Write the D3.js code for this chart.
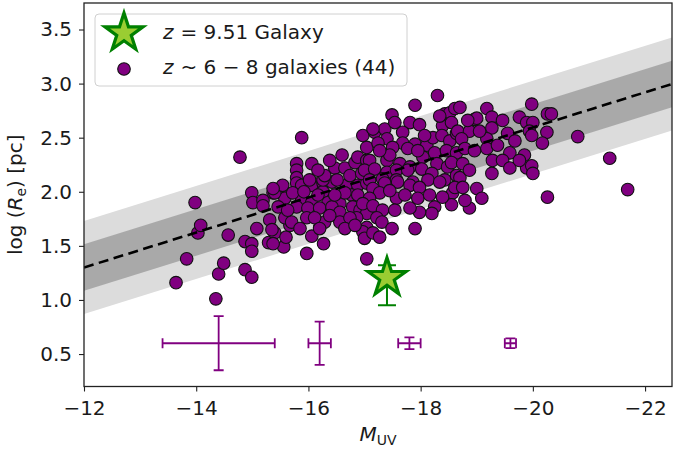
<!DOCTYPE html>
<html><head><meta charset="utf-8">
<script src="https://cdn.jsdelivr.net/npm/d3@7"></script>
<style>
body{margin:0;background:#fff;}
text{font-family:"DejaVu Sans",sans-serif;fill:#1a1a1a;}
</style></head>
<body><svg id="c" width="673" height="457"></svg>
<script>
// z~6-8 galaxies: M_UV and log(Re)
const galMuv = [-13.64,-13.83,-13.98,-14.03,-14.08,-14.35,-14.40,-14.49,-14.57,-14.78,-14.87,-14.87,-14.99,-14.99,-14.99,-15.08,-15.29,-15.40,-15.56,-15.60,-15.67,-15.97,-16.06,-16.27,-16.20,-16.29,-15.88,-16.06,-15.79,-15.79,-15.79,-15.79,-14.99,-15.01,-15.19,-15.19,-15.37,-15.53,-15.58,-15.88,-16.08,-15.31,
-15.40,-15.88,-16.06,-16.26,-16.42,-16.68,-16.88,-17.04,-15.72,-16.06,-16.26,-16.35,-16.56,-16.77,-16.88,-15.79,-15.99,-16.20,-16.42,-16.56,-16.79,-16.92,-17.04,-15.58,-15.70,-15.97,-16.11,-16.56,-16.86,-17.04,-15.35,-16.20,-16.97,-17.00,-17.04,-15.37,
-16.97,-16.02,-16.26,-16.47,-16.65,-16.83,-16.88,-17.04,-16.74,-16.95,-16.51,-16.29,-15.54,-15.37,
-18.30,-17.90,-17.49,-17.81,-17.98,-17.18,-17.36,-17.40,-17.68,-17.68,-17.90,-18.11,-18.22,-18.43,-18.52,-18.61,-18.39,-18.55,-18.38,-18.52,-18.64,-18.25,-18.46,-18.64,-17.04,-17.24,-17.50,-17.77,-18.04,-17.09,-17.40,-17.63,-17.81,-17.00,-17.18,-17.40,-17.57,-17.77,-18.02,-18.29,-18.48,-18.20,-17.09,-17.32,-17.57,-17.86,-18.13,-18.43,-18.64,
-17.15,-17.36,-17.59,-17.81,-17.98,-18.34,-18.57,-18.55,-18.25,-18.20,-17.98,-17.81,-17.57,-17.27,-17.09,-16.97,-17.15,-17.32,-17.22,-17.31,-17.49,-17.90,-17.15,-17.27,
-18.70,-19.18,-19.98,-20.26,-19.27,-18.96,-19.46,-19.76,-19.89,-20.00,-18.66,-18.87,-19.27,-19.94,-19.98,-19.55,-20.25,-18.73,-19.18,-19.18,-19.37,-20.17,-18.79,-19.59,-19.85,-19.28,-19.46,-19.59,-19.89,-19.98,-20.00,-19.27,-18.55,-18.75,-18.70,-18.61,-18.75,-19.00,-19.09,-18.87,-18.79,
-20.33,-20.80,-21.37,-21.69,-20.26,-17.15,-18.34,-19.00,
-16.65,-16.47,-16.17,-15.92,-16.38,-16.74,-16.65,-16.83,-15.85,-15.46,-15.63,-17.45,-17.72,-17.95,-18.16,-18.39,-17.54,-17.45,-17.95,-18.07,-17.27,-17.54,-16.38,-16.17,-16.60,-18.87,-18.96,-19.05,-18.84,-19.68,-19.76];
const galLogRe = [1.16,1.38,1.90,1.62,1.69,1.01,1.24,1.34,1.60,2.32,1.54,1.28,1.52,1.45,1.21,1.66,1.53,1.62,1.49,1.58,1.69,1.43,1.59,1.52,1.67,1.72,2.50,2.26,2.26,2.20,2.13,2.08,1.99,1.90,1.92,1.87,1.99,2.00,1.94,1.92,2.08,1.74,
1.99,2.06,2.06,2.08,2.09,2.06,2.06,2.08,1.99,1.90,2.00,1.90,1.89,1.97,1.97,1.86,1.85,1.85,1.86,1.81,1.86,1.83,1.80,1.76,1.72,1.76,1.76,1.72,1.76,1.67,1.65,1.66,1.63,1.57,1.38,1.52,
2.52,2.11,2.11,2.22,2.22,2.27,2.32,2.29,2.15,2.17,2.11,2.15,2.06,2.03,
2.89,2.80,2.71,2.64,2.62,2.55,2.58,2.49,2.55,2.45,2.44,2.43,2.50,2.72,2.73,2.77,2.61,2.64,2.52,2.47,2.54,2.36,2.38,2.36,2.41,2.45,2.41,2.40,2.32,2.29,2.29,2.26,2.23,2.20,2.21,2.18,2.20,2.20,2.21,2.26,2.23,2.17,2.11,2.12,2.11,2.09,2.11,2.11,2.15,
2.03,2.08,2.09,2.06,2.04,2.09,1.99,1.88,1.86,1.80,1.81,1.85,1.94,1.99,1.94,1.89,1.87,1.83,1.76,1.72,1.66,1.66,1.62,1.58,
2.78,2.77,2.81,2.72,2.69,2.67,2.66,2.69,2.64,2.64,2.56,2.56,2.59,2.56,2.52,2.54,2.55,2.49,2.49,2.40,2.43,2.45,2.40,2.36,2.34,2.29,2.29,2.22,2.22,2.24,2.17,2.17,2.27,2.26,2.13,2.04,2.04,2.03,1.94,1.85,1.92,
2.72,2.51,2.31,2.02,1.95,2.58,2.70,2.68,
1.99,1.97,1.97,2.00,1.78,1.76,1.66,1.69,1.66,1.86,1.83,2.01,1.97,1.94,1.97,1.95,1.83,2.34,2.38,2.52,2.38,2.64,2.29,2.20,2.34,2.20,2.38,2.56,2.66,2.47,2.29];

// typical uncertainties (bins)
const errMuv = [-14.4, -16.2, -17.8, -19.6];
const errLogRe = [0.6, 0.6, 0.6, 0.6];
const errMuvErr = [1.0, 0.2, 0.2, 0.1];
const errLogReErr = [0.25, 0.2, 0.055, 0.045];

// z = 9.51 galaxy
const starMuv = [-17.4];
const starLogRe = [1.22];
const starErrLo = [0.27];
const starErrHi = [0.10];

// size-luminosity relation: endpoints, scatter bands
const relMuv = [-12, -22.5];
const relLogRe = [1.30, 3.00];
const relSigma1 = [0.215];
const relSigma2 = [0.43];

const xTicks = [-12, -14, -16, -18, -20, -22];
const yTicks = [0.5, 1.0, 1.5, 2.0, 2.5, 3.0, 3.5];

const legendLabels = ["= 9.51 Galaxy", "~ 6 \u2212 8 galaxies (44)"];

const FS = 20;
const svg = d3.select("#c");
const L = 84, R = 672, T = 3, B = 386.5;
const x = d3.scaleLinear().domain([-12, -22.48]).range([L, R]);
const y = d3.scaleLinear().domain([0.2, 3.745]).range([B, T]);

svg.append("defs").append("clipPath").attr("id","clip")
  .append("rect").attr("x",L).attr("y",T).attr("width",R-L).attr("height",B-T);
const plot = svg.append("g").attr("clip-path","url(#clip)");

// relation line function
const slope = (relLogRe[1]-relLogRe[0])/(relMuv[1]-relMuv[0]);
const rel = m => relLogRe[0] + slope*(m - relMuv[0]);
const xs = [relMuv[0]+1, relMuv[1]-1];
function band(s){
  return d3.area().x(d=>x(d)).y0(d=>y(rel(d)-s)).y1(d=>y(rel(d)+s))(xs);
}
plot.append("path").attr("d", band(relSigma2[0])).attr("fill","#dcdcdc");
plot.append("path").attr("d", band(relSigma1[0])).attr("fill","#a9a9a9");

// scatter
plot.selectAll("circle.g").data(galMuv.map((m,i)=>[m,galLogRe[i]])).join("circle")
  .attr("class","g").attr("cx",d=>x(d[0])).attr("cy",d=>y(d[1])).attr("r",6.3)
  .attr("fill","#800080").attr("stroke","#111").attr("stroke-width",1.1);

// relation dashed line
plot.append("path").attr("d", d3.line().x(d=>x(d)).y(d=>y(rel(d)))([relMuv[0], relMuv[1]]))
  .attr("stroke","#000").attr("stroke-width",2.6).attr("stroke-dasharray","10,5.5").attr("fill","none");

// error bars
const eb = plot.append("g").attr("stroke","#800080").attr("stroke-width",1.8).attr("fill","none");
errMuv.forEach((m,i)=>{
  const cx=x(m), cy=y(errLogRe[i]);
  const x0=x(m+errMuvErr[i]), x1=x(m-errMuvErr[i]);
  const y0=y(errLogRe[i]-errLogReErr[i]), y1=y(errLogRe[i]+errLogReErr[i]);
  const c=5;
  eb.append("line").attr("x1",x0).attr("x2",x1).attr("y1",cy).attr("y2",cy);
  eb.append("line").attr("x1",cx).attr("x2",cx).attr("y1",y0).attr("y2",y1);
  eb.append("line").attr("x1",x0).attr("x2",x0).attr("y1",cy-c).attr("y2",cy+c);
  eb.append("line").attr("x1",x1).attr("x2",x1).attr("y1",cy-c).attr("y2",cy+c);
  eb.append("line").attr("x1",cx-c).attr("x2",cx+c).attr("y1",y0).attr("y2",y0);
  eb.append("line").attr("x1",cx-c).attr("x2",cx+c).attr("y1",y1).attr("y2",y1);
});

function starPath(cx, cy, r){
  const ri = r*0.381966;
  const pts=[];
  for(let k=0;k<10;k++){
    const a = -Math.PI/2 + k*Math.PI/5;
    const rr = k%2===0? r: ri;
    pts.push([cx+rr*Math.cos(a), cy+rr*Math.sin(a)]);
  }
  return "M"+pts.map(p=>p.join(",")).join("L")+"Z";
}

// star with error
const sg = plot.append("g");
starMuv.forEach((m,i)=>{
  const cx=x(m), lo=y(starLogRe[i]-starErrLo[i]), hi=y(starLogRe[i]+starErrHi[i]);
  sg.append("line").attr("x1",cx).attr("x2",cx).attr("y1",lo).attr("y2",hi).attr("stroke","#008000").attr("stroke-width",2);
  sg.append("line").attr("x1",cx-9).attr("x2",cx+9).attr("y1",lo).attr("y2",lo).attr("stroke","#008000").attr("stroke-width",2);
  sg.append("line").attr("x1",cx-9).attr("x2",cx+9).attr("y1",hi).attr("y2",hi).attr("stroke","#008000").attr("stroke-width",2);
  sg.append("path").attr("d",starPath(cx,y(starLogRe[i])+1.5,20)).attr("fill","#9acd32")
    .attr("stroke","#008000").attr("stroke-width",3.2).attr("stroke-linejoin","miter");
});

// axes
const xa = svg.append("g").attr("transform",`translate(0,${B})`)
  .call(d3.axisBottom(x).tickValues(xTicks).tickFormat(d3.format("d")).tickSizeOuter(0).tickSize(5).tickPadding(9));
const ya = svg.append("g").attr("transform",`translate(${L},0)`)
  .call(d3.axisLeft(y).tickValues(yTicks).tickFormat(d3.format(".1f")).tickSizeOuter(0).tickSize(5).tickPadding(7));
[xa,ya].forEach(a=>{
  a.selectAll("text").attr("font-size",FS).attr("font-family","DejaVu Sans").attr("fill","#1a1a1a");
  a.selectAll("line").attr("stroke","#222").attr("stroke-width",1.1);
  a.select(".domain").remove();
});
svg.append("rect").attr("x",L).attr("y",T).attr("width",R-L).attr("height",B-T)
  .attr("fill","none").attr("stroke","#222").attr("stroke-width",1.3);

// axis labels
const xl = svg.append("text").attr("x",(L+R)/2).attr("y",441).attr("text-anchor","middle").attr("font-size",FS);
xl.append("tspan").attr("font-style","italic").text("M");
xl.append("tspan").attr("font-size",14).attr("dy",4).text("UV");

const yl = svg.append("text").attr("transform",`translate(22,${(T+B)/2}) rotate(-90)`).attr("text-anchor","middle").attr("font-size",FS);
yl.append("tspan").text("log (");
yl.append("tspan").attr("font-style","italic").text("R");
yl.append("tspan").attr("font-size",14).attr("dy",4).text("e");
yl.append("tspan").attr("dy",-4).text(") [pc]");

// legend
const lg = svg.append("g");
lg.append("rect").attr("x",95).attr("y",14).attr("width",312).attr("height",72).attr("rx",4)
  .attr("fill","#fff").attr("fill-opacity",0.85).attr("stroke","#d0d0d0").attr("stroke-width",1);
lg.append("path").attr("d",starPath(124,33,20)).attr("fill","#9acd32").attr("stroke","#008000").attr("stroke-width",3.2);
lg.append("circle").attr("cx",124).attr("cy",69).attr("r",6.3).attr("fill","#800080").attr("stroke","#111").attr("stroke-width",1.1);
const t1 = lg.append("text").attr("x",163).attr("y",39).attr("font-size",FS);
t1.append("tspan").attr("font-style","italic").text("z");
t1.append("tspan").attr("dx",7).text(legendLabels[0]);
const t2 = lg.append("text").attr("x",163).attr("y",74).attr("font-size",FS);
t2.append("tspan").attr("font-style","italic").text("z");
t2.append("tspan").attr("dx",7).text(legendLabels[1]);
</script></body></html>
